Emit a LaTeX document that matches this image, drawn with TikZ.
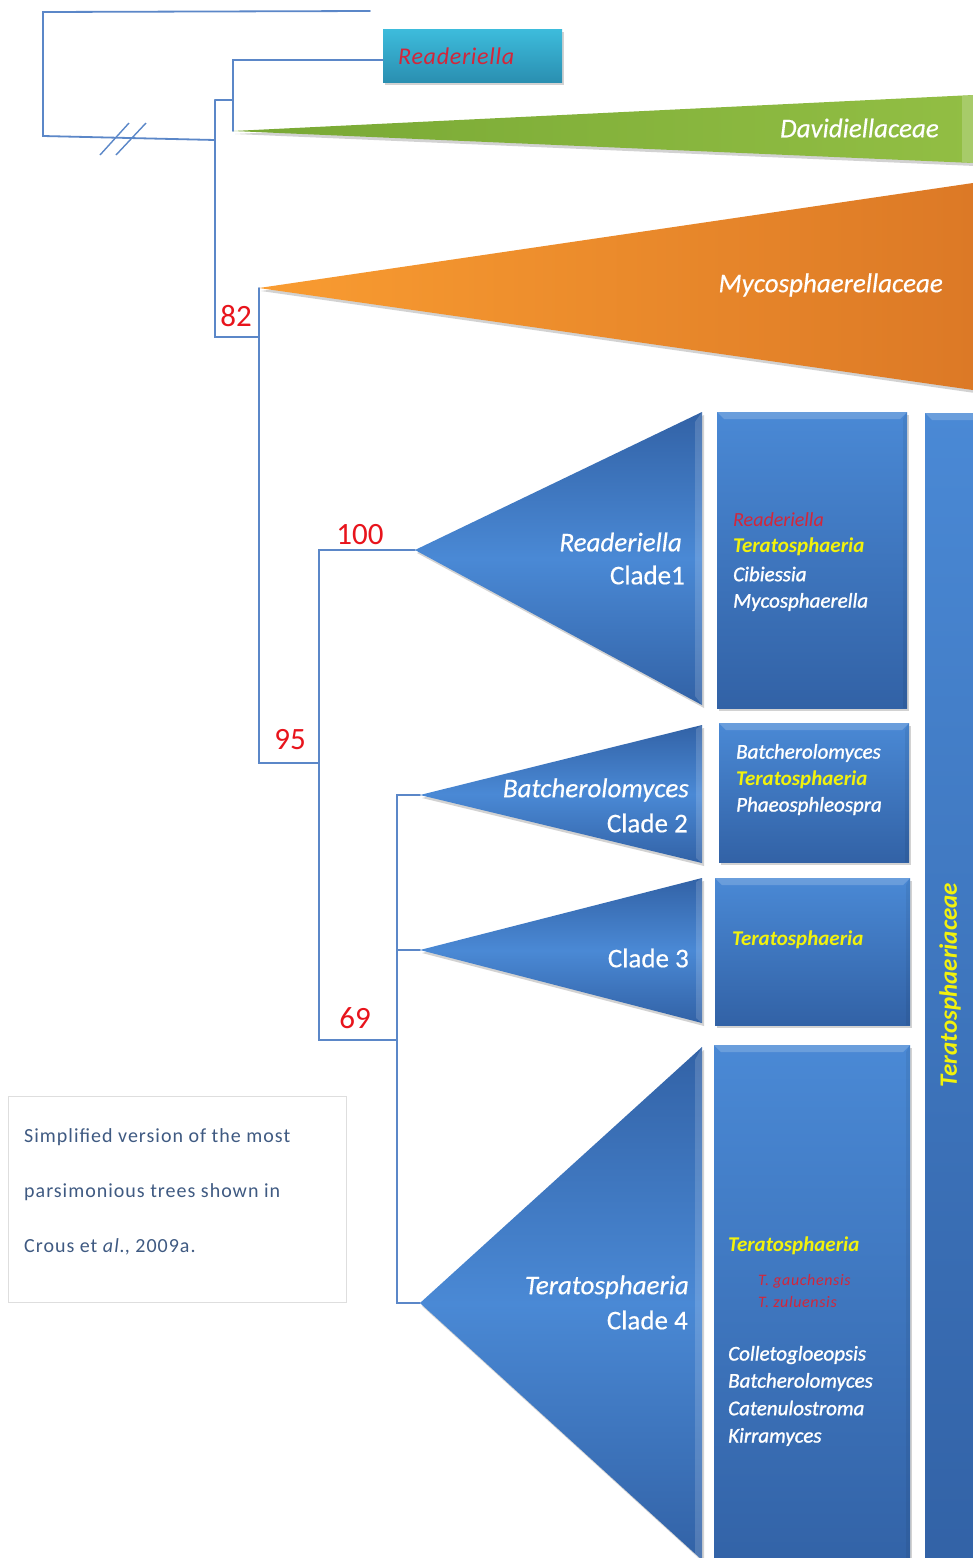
\documentclass[tikz,border=0pt]{standalone}
\usepackage{fontspec}
\setmainfont{Carlito}
\usetikzlibrary{shadows}
\definecolor{treeline}{HTML}{5B87C8}
\definecolor{numred}{HTML}{E8141C}
\definecolor{cyanT}{HTML}{3DBCDC}
\definecolor{cyanB}{HTML}{2A8FB1}
\definecolor{greenL}{HTML}{78A834}
\definecolor{greenR}{HTML}{92BE44}
\definecolor{orangeL}{HTML}{F99C31}
\definecolor{orangeR}{HTML}{DC7926}
\definecolor{blueL}{HTML}{4A89D5}
\definecolor{blueM}{HTML}{3E78C3}
\definecolor{blueD}{HTML}{3262A6}
\definecolor{captxt}{HTML}{3F5A82}
\definecolor{yel}{HTML}{F2F20C}
\definecolor{redtxt}{HTML}{D3263A}
\begin{document}
\begin{tikzpicture}[x=1pt,y=-1pt,
  tree/.style={draw=treeline, line width=1.8pt, line cap=round, line join=miter},
  num/.style={text=numred, font=\fontsize{31}{33}\selectfont, inner sep=0pt},
  shad/.style={drop shadow={opacity=0.35, shadow xshift=2pt, shadow yshift=-3pt}},
  bluetri/.style={top color=blueD, bottom color=blueD, middle color=blueL, shad},
  bevel/.style={fill=white, opacity=0.15},
  bluebox/.style={rectangle, draw=none, top color=blueL, bottom color=blueD, shad, inner sep=0pt,
    path picture={
      \fill[white,opacity=0.18] (path picture bounding box.north west) -- (path picture bounding box.north east)
        -- ([xshift=-7pt,yshift=-7pt]path picture bounding box.north east) -- ([xshift=7pt,yshift=-7pt]path picture bounding box.north west) -- cycle;
      \fill[black,opacity=0.06] (path picture bounding box.north east) -- ([xshift=-4pt,yshift=-7pt]path picture bounding box.north east)
        -- ([xshift=-4pt]path picture bounding box.south east) -- (path picture bounding box.south east) -- cycle;}},
  tritxt/.style={text=white, font=\fontsize{27}{30}\selectfont\itshape\addfontfeature{FakeBold=0.4}, anchor=east, inner sep=0pt},
  clade/.style={text=white, font=\fontsize{27}{30}\selectfont\addfontfeature{FakeBold=0.4}, anchor=east, inner sep=0pt},
  wtxt/.style={text=white, font=\fontsize{21}{24}\selectfont\itshape\addfontfeature{FakeBold=1.2}, anchor=west, inner sep=0pt},
  ytxt/.style={text=yel, font=\fontsize{21}{24}\selectfont\bfseries\itshape, anchor=west, inner sep=0pt},
  rtxt/.style={text=redtxt, font=\fontsize{20}{22}\selectfont\itshape, anchor=west, inner sep=0pt},
  rsmall/.style={text=redtxt, font=\fontsize{16}{18}\selectfont\itshape\addfontfeature{LetterSpace=4}, anchor=west, inner sep=0pt},
  captext/.style={text=captxt, font=\fontsize{20}{22}\selectfont\addfontfeature{LetterSpace=5}, anchor=west, inner sep=0pt}
]
\useasboundingbox (0,0) rectangle (973,1558);
\fill[white] (0,0) rectangle (973,1558);

% ---------- coordinates of the tree ----------
\coordinate (top) at (370,11);
\coordinate (A) at (43,12);
\coordinate (B) at (43,136);
\coordinate (N1) at (215,140);
\coordinate (N1t) at (215,100);
\coordinate (N1b) at (215,337);
\coordinate (N2) at (233,100);
\coordinate (N2t) at (233,60);
\coordinate (gApex) at (233,131);
\coordinate (N3) at (259,337);
\coordinate (oApex) at (259,288);
\coordinate (N3b) at (259,763);
\coordinate (N4) at (319,763);
\coordinate (N4t) at (319,550);
\coordinate (N4b) at (319,1040);
\coordinate (c1Apex) at (415,550);
\coordinate (N5) at (397,1040);
\coordinate (N5t) at (397,795);
\coordinate (N5m) at (397,950);
\coordinate (N5b) at (397,1303);
\coordinate (c2Apex) at (420,795);
\coordinate (c3Apex) at (420,950);
\coordinate (c4Apex) at (420,1303);

% ---------- collapsed clades (triangles) ----------
\path[left color=greenL, right color=greenR, shad] (gApex) -- (973,95) -- (973,163) -- cycle;
\fill[white,opacity=0.2] (962,96) -- (973,95) -- (973,163) -- (962,162) -- cycle;
\path[left color=orangeL, right color=orangeR, shad] (oApex) -- (973,183) -- (973,390) -- cycle;

\path[bluetri] (c1Apex) -- (702,412) -- (702,705) -- cycle;
\fill[bevel] (702,412) -- (702,705) -- (695,696) -- (695,422) -- cycle;
\path[bluetri] (c2Apex) -- (702,725) -- (702,863) -- cycle;
\fill[bevel] (702,725) -- (702,863) -- (696,858) -- (696,729) -- cycle;
\path[bluetri] (c3Apex) -- (702,878) -- (702,1023) -- cycle;
\fill[bevel] (702,878) -- (702,1023) -- (696,1018) -- (696,882) -- cycle;
\path[bluetri] (c4Apex) -- (702,1047) -- (702,1560) -- cycle;
\fill[bevel] (702,1047) -- (702,1560) -- (695,1556) -- (695,1060) -- cycle;

% ---------- boxes ----------
\node[rectangle, top color=cyanT, bottom color=cyanB, shad, minimum width=179pt, minimum height=53pt] (readbox) at (472.5,55.5) {};
\node[text=redtxt, font=\fontsize{24}{26}\selectfont\itshape\addfontfeature{LetterSpace=3}, anchor=west, inner sep=0pt] (readtxt) at (398,56) {Readeriella};

\node[bluebox, minimum width=190pt, minimum height=296pt] (box1) at (812,560) {};
\node[bluebox, minimum width=190pt, minimum height=139pt] (box2) at (814,792.5) {};
\node[bluebox, minimum width=195pt, minimum height=147pt] (box3) at (812.5,951.5) {};
\node[bluebox, minimum width=196pt, minimum height=530pt] (box4) at (812,1310) {};
\node[bluebox, minimum width=70pt, minimum height=1160pt] (fam) at (960,993) {};

% ---------- tree lines ----------
\draw[tree] (top) -- (A) -- (B) -- (N1);
\draw[tree] (N1t) -- (N1b) -- (N3);
\draw[tree] (N1t) -- (N2);
\draw[tree] (readbox.west |- N2t) -- (N2t) -- (gApex);
\draw[tree] (oApex) -- (N3b) -- (N4);
\draw[tree] (c1Apex) -- (N4t) -- (N4b) -- (N5);
\draw[tree] (c2Apex) -- (N5t) -- (N5b) -- (c4Apex);
\draw[tree] (N5m) -- (c3Apex);
% break marks
\coordinate (s1a) at (100,155); \coordinate (s1b) at (129,123);
\coordinate (s2a) at (116,155); \coordinate (s2b) at (146,123);
\draw[treeline, line width=1.4pt] (s1a) -- (s1b);
\draw[treeline, line width=1.4pt] (s2a) -- (s2b);

% ---------- support values ----------
\node[num] (b82) at (236,316) {82};
\node[num] (b95) at (290,740) {95};
\node[num] (b100) at (360,535) {100};
\node[num] (b69) at (355,1018) {69};

% ---------- triangle labels ----------
\node[tritxt] (tDav) at (939,128) {Davidiellaceae};
\node[tritxt] (tMyc) at (943,285) {Mycosphaerellaceae};
\node[tritxt] (t1a) at (682,542) {Readeriella};
\node[clade] (t1b) at (685,575) {Clade1};
\node[tritxt] (t2a) at (689,790) {Batcherolomyces};
\node[clade] (t2b) at (688,823) {Clade 2};
\node[clade] (t3) at (689,958) {Clade 3};
\node[tritxt] (t4a) at (689,1287) {Teratosphaeria};
\node[clade] (t4b) at (688,1320) {Clade 4};

% ---------- box contents ----------
\node[rtxt] (g1a) at (733,520) {Readeriella};
\node[ytxt] (g1b) at (733,547) {Teratosphaeria};
\node[wtxt] (g1c) at (733,574) {Cibiessia};
\node[wtxt] (g1d) at (733,602) {Mycosphaerella};

\node[wtxt] (g2a) at (736,753) {Batcherolomyces};
\node[ytxt] (g2b) at (736,780) {Teratosphaeria};
\node[wtxt] (g2c) at (736,806) {Phaeosphleospra};

\node[ytxt] (g3a) at (732,940) {Teratosphaeria};

\node[ytxt] (g4a) at (728,1246) {Teratosphaeria};
\node[rsmall] (g4b) at (758,1281) {T. gauchensis};
\node[rsmall] (g4c) at (758,1302) {T. zuluensis};
\node[wtxt] (g4d) at (728,1355) {Colletogloeopsis};
\node[wtxt] (g4e) at (728,1382) {Batcherolomyces};
\node[wtxt] (g4f) at (728,1408) {Catenulostroma};
\node[wtxt] (g4g) at (728,1437) {Kirramyces};

\node[text=yel, font=\fontsize{25}{28}\selectfont\bfseries\itshape, rotate=90, inner sep=0pt] (famtxt) at (950,985) {Teratosphaeriaceae};

% ---------- caption ----------
\node[rectangle, draw=black!13, line width=0.8pt, fill=white, minimum width=338pt, minimum height=206pt] (cap) at (177,1199) {};
\node[captext] (cap1) at (24,1137) {Simplified version of the most};
\node[captext] (cap2) at (24,1192) {parsimonious trees shown in};
\node[captext] (cap3) at (24,1247) {Crous et \textit{al.}, 2009a.};
\end{tikzpicture}
\end{document}
